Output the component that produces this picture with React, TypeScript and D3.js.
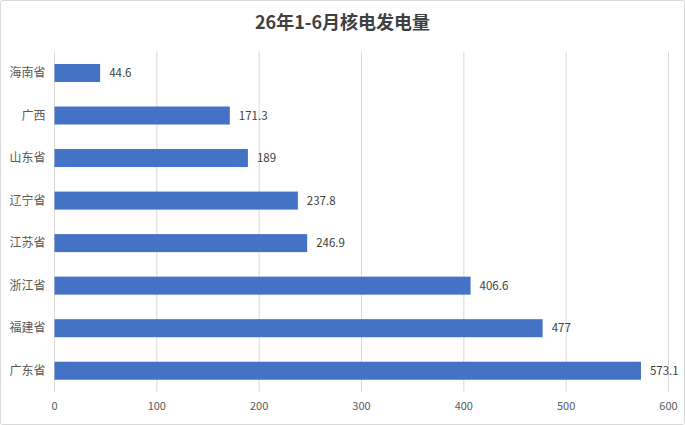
import React from "react";
import * as d3 from "d3";

const categories = ["海南省", "广西", "山东省", "辽宁省", "江苏省", "浙江省", "福建省", "广东省"];
const values = [44.6, 171.3, 189, 237.8, 246.9, 406.6, 477, 573.1];
const valueLabels = ["44.6", "171.3", "189", "237.8", "246.9", "406.6", "477", "573.1"];
const xTicks = [0, 100, 200, 300, 400, 500, 600];
const title = "26年1-6月核电发电量";

const W = 685;
const H = 425;
const margin = { left: 54.5, right: 16.5, top: 51.7, bottom: 33 };
const FONT = "'Noto Sans CJK SC', 'Noto Sans', sans-serif";

export default function App() {
  const x = d3.scaleLinear().domain([0, 600]).range([margin.left, W - margin.right]);
  const y = d3
    .scaleBand<string>()
    .domain(categories)
    .range([margin.top, H - margin.bottom])
    .paddingInner(0.576)
    .paddingOuter(0.288);
  const bandStep = y.step();
  const barH = 18;

  return (
    <div style={{ position: "absolute", left: 0, top: 0 }}>
      <svg width={W} height={H} style={{ display: "block", background: "#fff" }}>
        <rect x={0.5} y={0.5} width={W - 1} height={H - 1} fill="#fff" stroke="#d9d9d9" rx={2} />
        <text
          x={W / 2}
          y={29}
          textAnchor="middle"
          fontFamily={FONT}
          fontWeight="bold"
          fontSize={18}
          fill="#404040"
        >
          {title}
        </text>
        {xTicks.map((t) => (
          <g key={t}>
            <line
              x1={x(t)}
              x2={x(t)}
              y1={margin.top}
              y2={H - margin.bottom}
              stroke="#d9d9d9"
              strokeWidth={1}
            />
            <text
              x={x(t)}
              y={H - margin.bottom + 18}
              textAnchor="middle"
              fontFamily={FONT}
              fontSize={11}
              fill="#595959"
            >
              {t}
            </text>
          </g>
        ))}
        {categories.map((c, i) => {
          const cy = (y(c) as number) + y.bandwidth() / 2;
          return (
            <g key={c}>
              <rect
                x={x(0)}
                y={cy - barH / 2}
                width={x(values[i]) - x(0)}
                height={barH}
                fill="#4472C4"
              />
              <text
                x={margin.left - 9}
                y={cy + 4}
                textAnchor="end"
                fontFamily={FONT}
                fontSize={12}
                fill="#595959"
              >
                {c}
              </text>
              <text
                x={x(values[i]) + 9}
                y={cy + 4}
                textAnchor="start"
                fontFamily={FONT}
                fontSize={11.5}
                fill="#404040"
              >
                {valueLabels[i]}
              </text>
            </g>
          );
        })}
      </svg>
    </div>
  );
}
